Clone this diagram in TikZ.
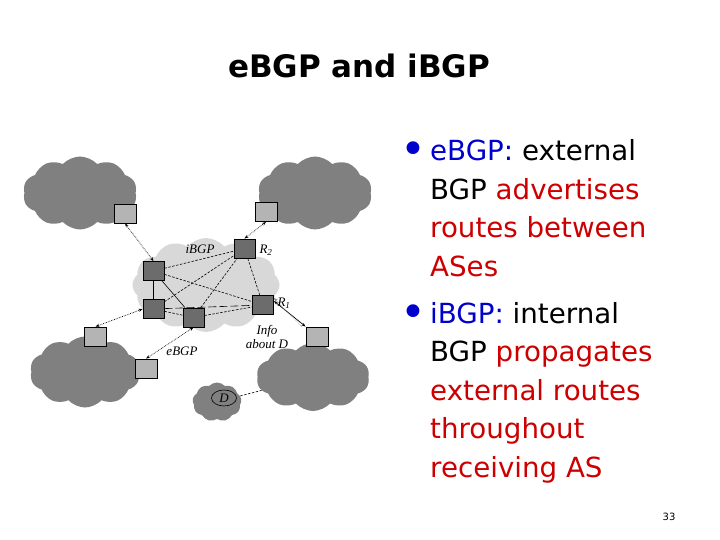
\documentclass[tikz,border=0pt]{standalone}
\usepackage{fontspec}
\setmainfont{DejaVu Sans}
\newfontfamily\tms{Liberation Serif}
\usetikzlibrary{shapes.symbols,shapes.geometric,arrows.meta}
\definecolor{cloudgray}{RGB}{128,128,128}
\definecolor{asgray}{RGB}{216,216,216}
\definecolor{edgegray}{RGB}{180,180,180}
\definecolor{rtrgray}{RGB}{108,108,108}
\definecolor{txtblue}{RGB}{0,0,204}
\definecolor{txtred}{RGB}{204,0,0}
\begin{document}
\begin{tikzpicture}[x=1bp,y=-1bp,
  ascloud/.style={cloud, cloud puffs=10, cloud puff arc=95, fill=cloudgray, draw=none, inner sep=0pt},
  edgertr/.style={rectangle, draw=black, line width=0.8bp, fill=edgegray, minimum width=22bp, minimum height=19bp, inner sep=0pt},
  intrtr/.style={rectangle, draw=black, line width=0.8bp, fill=rtrgray, minimum width=21bp, minimum height=19bp, inner sep=0pt},
  ebgp/.style={densely dotted, line width=0.7bp, {Stealth[length=4bp,width=3bp]}-{Stealth[length=4bp,width=3bp]}},
  ibgp/.style={dash pattern=on 2.5bp off 1.5bp, line width=0.6bp},
  ibgplong/.style={dash pattern=on 8bp off 3bp, line width=0.6bp},
  isolid/.style={line width=0.6bp},
  lbl/.style={font=\tms\itshape\fontsize{13bp}{13bp}\selectfont, inner sep=0pt},
  body/.style={font=\fontsize{27.7bp}{38bp}\selectfont, anchor=base west, inner sep=0pt},
  bul/.style={font=\fontsize{44bp}{44bp}\selectfont, text=txtblue, inner sep=0pt, anchor=base west}
]
\path[use as bounding box] (0,0) rectangle (720,540);

% title
\node[font=\bfseries\fontsize{31bp}{31bp}\selectfont, anchor=base, inner sep=0pt] (title) at (359,78) {eBGP and iBGP};

% clouds
\node[ascloud, minimum width=114bp, minimum height=73bp] (TLc) at (80,193) {};
\node[ascloud, minimum width=114bp, minimum height=73bp] (TRc) at (315,193) {};
\node[ascloud, minimum width=110bp, minimum height=71bp] (BLc) at (85,372) {};
\node[ascloud, minimum width=113bp, minimum height=68bp] (BRc) at (313,377) {};
\node[ascloud, cloud puffs=9, minimum width=49bp, minimum height=39bp] (Dc) at (217,402) {};
\node[cloud, cloud puffs=12, cloud puff arc=100, fill=asgray, draw=none, inner sep=0pt, minimum width=147bp, minimum height=94bp] (ASc) at (206,285) {};

% D cloud content
\node[ellipse, draw=black, line width=0.6bp, fill=cloudgray, minimum width=25bp, minimum height=16bp, inner sep=0pt] (Dell) at (224,398) {};
\node[lbl] (Dlbl) at (224,398) {D};
\draw[ibgp] (Dc) -- (BRc);

% routers
\node[edgertr] (TLs) at (125,213.5) {};
\node[edgertr] (TRs) at (266,212) {};
\node[edgertr] (Ls) at (95.5,336.5) {};
\node[edgertr] (BLs) at (146,368.5) {};
\node[edgertr] (Rs) at (317,336.5) {};

\node[intrtr] (R2) at (244.5,248.5) {};
\node[intrtr] (A) at (153.5,271) {};
\node[intrtr] (B) at (153.5,309) {};
\node[intrtr] (C) at (193.5,317.5) {};
\node[intrtr] (R1) at (263,305) {};

% iBGP mesh
\draw[isolid] (A) -- (B);
\draw[isolid] (A) -- (C);
\draw[ibgp] (A) -- (R2);
\draw[ibgp] (A) -- (R1);
\draw[ibgp] (B) -- (R2);
\draw[ibgplong] (B) -- (R1);
\draw[ibgp] (B) -- (C);
\draw[ibgp] (C) -- (R2);
\draw[ibgp] (C) -- (R1);
\draw[ibgp] (R2) -- (R1);

% eBGP sessions
\draw[ebgp] (TLs.south) -- (A.north);
\draw[ebgp] (TRs.south) -- (R2.north);
\draw[ebgp] (B.west) -- (Ls.north);
\draw[ebgp] (C.south) -- (BLs.north);
\draw[line width=0.7bp, {Stealth[length=4bp,width=3bp]}-{Stealth[length=4bp,width=3bp]}] ([yshift=4bp]R1.east) -- (Rs.north west);
\draw[densely dotted, line width=0.5bp, gray, -{Stealth[length=4bp,width=3bp]}] ([xshift=-4bp]Rs.north west) -- ([yshift=7bp]R1.east);

% diagram labels
\node[lbl] (iBGPl) at (200,249) {iBGP};
\node[lbl] (eBGPl) at (182,351) {eBGP};
\node[lbl] (R2l) at (266,250) {R\textsubscript{2}};
\node[lbl] (R1l) at (284,303) {R\textsubscript{1}};
\node[lbl] (info1) at (267,331) {Info};
\node[lbl] (info2) at (267,344) {about D};

% bullet text
\node[bul] (b1) at (400,164.5) {•};
\node[body] (l1) at (430,161) {\textcolor{txtblue}{eBGP:} external};
\node[body] (l2) at (430,199.5) {BGP \textcolor{txtred}{advertises}};
\node[body, text=txtred] (l3) at (430,238) {routes between};
\node[body, text=txtred] (l4) at (430,276.5) {ASes};

\node[bul] (b2) at (400,327.5) {•};
\node[body] (m1) at (430,323) {\textcolor{txtblue}{iBGP:} internal};
\node[body] (m2) at (430,361.5) {BGP \textcolor{txtred}{propagates}};
\node[body, text=txtred] (m3) at (430,400) {external routes};
\node[body, text=txtred] (m4) at (430,438.5) {throughout};
\node[body, text=txtred] (m5) at (430,477) {receiving AS};

\node[font=\fontsize{10bp}{10bp}\selectfont, anchor=base, inner sep=0pt] (pg) at (669,520) {33};
\end{tikzpicture}
\end{document}
